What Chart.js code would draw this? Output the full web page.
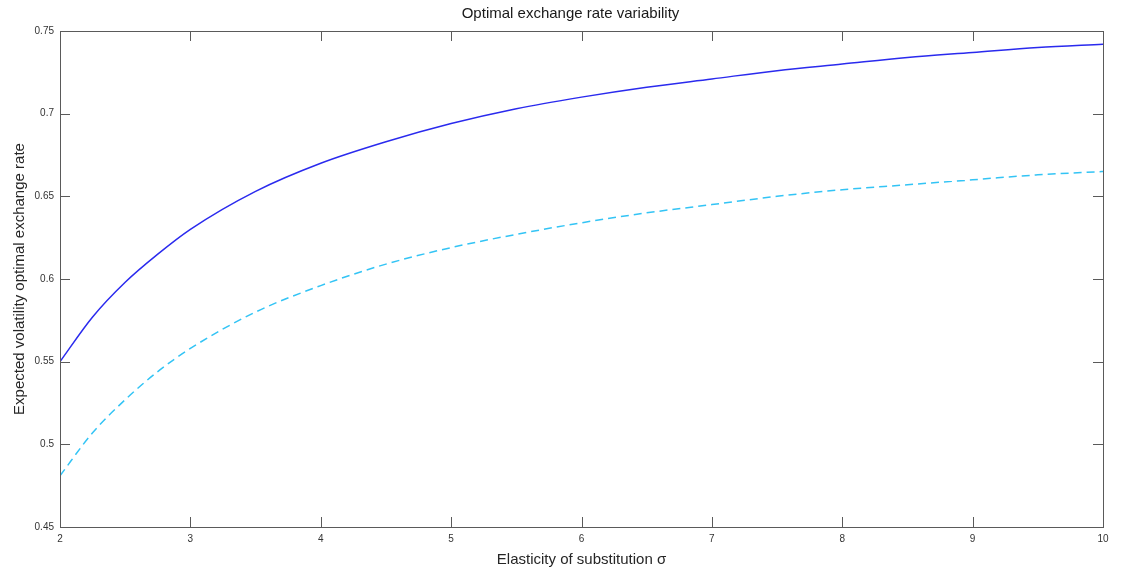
<!DOCTYPE html>
<html>
<head>
<meta charset="utf-8">
<script src="https://cdn.jsdelivr.net/npm/chart.js@4.4.1/dist/chart.umd.min.js"></script>
<style>
    html, body { margin: 0; padding: 0; background: #fff; }
    #wrap { width: 1122px; height: 569px; position: relative; }
</style>
</head>
<body>
<div id="wrap"><canvas id="chart"></canvas></div>
<script>
// ===== DATOS =====
const sigma = [2, 2.25, 2.5, 2.75, 3, 3.5, 4, 4.5, 5, 5.5, 6, 6.5, 7, 7.5, 8, 8.5, 9, 9.5, 10];
const volSolid = [0.550, 0.577, 0.598, 0.615, 0.630, 0.653, 0.670, 0.683, 0.694, 0.703, 0.710, 0.716, 0.721, 0.726, 0.730, 0.734, 0.737, 0.740, 0.742];
const volDashed = [0.481, 0.507, 0.527, 0.544, 0.558, 0.580, 0.596, 0.609, 0.619, 0.627, 0.634, 0.640, 0.645, 0.650, 0.654, 0.657, 0.660, 0.663, 0.665];
const xTicks = [2, 3, 4, 5, 6, 7, 8, 9, 10];
const yTicks = [0.45, 0.5, 0.55, 0.6, 0.65, 0.7, 0.75];
const titleText = 'Optimal exchange rate variability';

const FONT = 'Liberation Sans, Arial, Helvetica, sans-serif';
const toPoints = (ys) => sigma.map((x, i) => ({ x: x, y: ys[i] }));

// Marco tipo MATLAB con marcas hacia dentro en los cuatro lados + título
const boxPlugin = {
    id: 'matlabBox',
    afterDraw: (chart) => {
        const ctx = chart.ctx;
        const { top, right, bottom, left } = chart.chartArea;
        const xs = chart.scales.x, ys = chart.scales.y;
        const len = 10;
        ctx.save();
        ctx.strokeStyle = '#5a5a5a';
        ctx.lineWidth = 1;
        ctx.strokeRect(Math.round(left) + 0.5, Math.round(top) + 0.5,
            Math.round(right - left), Math.round(bottom - top));
        ctx.beginPath();
        xTicks.forEach(v => {
            const px = Math.round(xs.getPixelForValue(v)) + 0.5;
            ctx.moveTo(px, bottom); ctx.lineTo(px, bottom - len);
            ctx.moveTo(px, top); ctx.lineTo(px, top + len);
        });
        yTicks.forEach(v => {
            const py = Math.round(ys.getPixelForValue(v)) + 0.5;
            ctx.moveTo(left, py); ctx.lineTo(left + len, py);
            ctx.moveTo(right, py); ctx.lineTo(right - len, py);
        });
        ctx.stroke();

        // Título
        ctx.font = `15px ${FONT}`;
        ctx.fillStyle = '#1a1a1a';
        ctx.textAlign = 'center';
        ctx.textBaseline = 'middle';
        ctx.fillText(titleText, (left + right) / 2 - 11, 14);
        ctx.restore();
    }
};

new Chart(document.getElementById('chart'), {
    type: 'line',
    data: {
        datasets: [{
            data: toPoints(volSolid),
            borderColor: '#2a2aee',
            borderWidth: 1.5,
            pointRadius: 0,
            cubicInterpolationMode: 'monotone'
        }, {
            data: toPoints(volDashed),
            borderColor: '#33c4f5',
            borderWidth: 1.5,
            borderDash: [8, 5],
            pointRadius: 0,
            cubicInterpolationMode: 'monotone'
        }]
    },
    options: {
        responsive: true,
        maintainAspectRatio: false,
        animation: false,
        layout: { padding: { left: 0, right: 19, top: 31, bottom: 0 } },
        plugins: {
            legend: { display: false },
            tooltip: { enabled: false },
            title: { display: false }
        },
        scales: {
            x: {
                type: 'linear',
                min: 2,
                max: 10,
                grid: { display: false, drawTicks: false },
                border: { display: false },
                afterBuildTicks: (s) => { s.ticks = xTicks.map(v => ({ value: v })); },
                afterFit: (s) => { s.height = 42; },
                ticks: {
                    color: '#333',
                    font: { family: FONT, size: 10 },
                    padding: 6,
                    maxRotation: 0
                },
                title: {
                    display: true,
                    text: 'Elasticity of substitution σ',
                    color: '#262626',
                    font: { family: FONT, size: 15 },
                    padding: { top: 0, bottom: 0 }
                }
            },
            y: {
                type: 'linear',
                min: 0.45,
                max: 0.75,
                grid: { display: false, drawTicks: false },
                border: { display: false },
                afterBuildTicks: (s) => { s.ticks = yTicks.map(v => ({ value: v })); },
                afterFit: (s) => { s.width = 60; },
                ticks: {
                    color: '#333',
                    font: { family: FONT, size: 10 },
                    padding: 6,
                    callback: v => String(+v.toFixed(2))
                },
                title: {
                    display: true,
                    text: 'Expected volatility optimal exchange rate',
                    color: '#262626',
                    font: { family: FONT, size: 15 },
                    padding: { top: 11, bottom: 0 }
                }
            }
        }
    },
    plugins: [boxPlugin]
});
</script>
</body>
</html>
